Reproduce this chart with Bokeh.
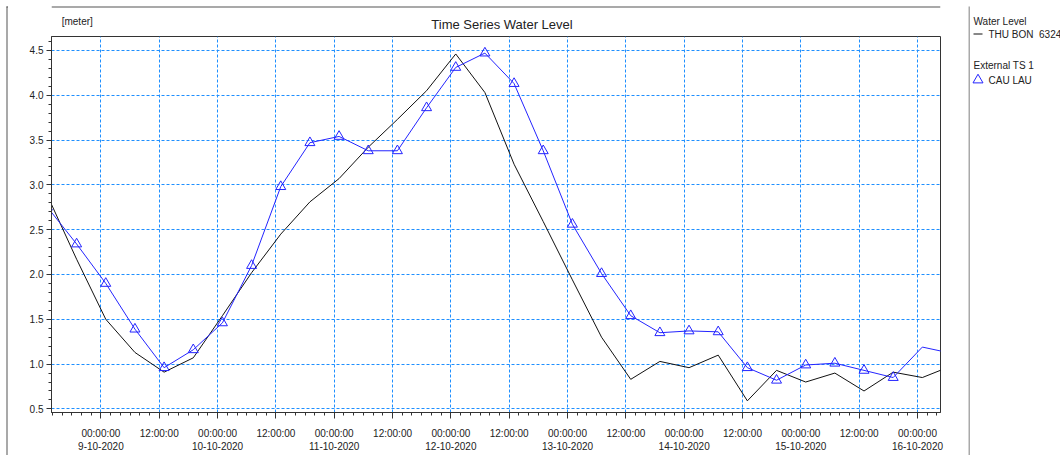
import pandas as pd
from bokeh.plotting import figure
from bokeh.layouts import row, column
from bokeh.models import (ColumnDataSource, Range1d, FixedTicker, SingleIntervalTicker,
                          PrintfTickFormatter, BoxAnnotation)
from bokeh.core.properties import value
from bokeh.embed import file_html
from bokeh.resources import INLINE

# ---------------- data (6-hourly, first value at 2020-10-08 13:00) ----------------
series_start = "2020-10-08 13:00"
step = "6h"
thu_bon = [2.88, 2.17, 1.50, 1.13, 0.91, 1.07, 1.54, 2.02, 2.45, 2.81, 3.07, 3.42,
           3.73, 4.05, 4.46, 4.03, 3.23, 2.59, 1.94, 1.30, 0.83, 1.03, 0.96, 1.10,
           0.59, 0.93, 0.80, 0.90, 0.70, 0.91, 0.85, 0.98]
cau_lau = [2.75, 2.34, 1.90, 1.39, 0.96, 1.16, 1.46, 2.10, 2.98, 3.47, 3.54, 3.38,
           3.38, 3.86, 4.31, 4.47, 4.13, 3.38, 2.56, 2.01, 1.54, 1.35, 1.37, 1.36,
           0.96, 0.82, 0.99, 1.01, 0.93, 0.85, 1.19, 1.12]
marker_until = "2020-10-16 00:00"

title_text = "Time Series Water Level"
unit_text = "[meter]"
legend_group1 = "Water Level"
legend_item1 = "THU BON\u00a0 63248"
legend_group2 = "External TS 1"
legend_item2 = "CAU LAU"

x_start = "2020-10-08 13:50"
x_end = "2020-10-16 04:44"
first_major = "2020-10-09 00:00"
last_major = "2020-10-16 00:00"

FONT = "Liberation Sans"
TXT = "#222222"
GRID = "#1E8FFF"
BORDER = "#555555"
BLUE = "#2424ff"


def blank(width, height, xr, yr):
    f = figure(width=width, height=height, x_range=Range1d(*xr), y_range=Range1d(*yr),
               output_backend="svg", toolbar_location=None,
               x_axis_location=None, y_axis_location=None, min_border=0)
    f.xgrid.visible = False
    f.ygrid.visible = False
    f.outline_line_color = None
    f.background_fill_color = "white"
    f.border_fill_color = "white"
    return f


def rule(f, left, right, top, bottom):
    f.add_layout(BoxAnnotation(left=left, right=right, top=top, bottom=bottom,
                               fill_color=BORDER, fill_alpha=1, line_color=None))


# ---------------- left strip: panel border ----------------
strip = blank(8, 455, (0, 8), (455, 0))
rule(strip, 6, 7, 6, 455)
rule(strip, 6, 8, 6, 7)

# ---------------- top strip: title + unit ----------------
top = blank(960, 35, (8, 968), (35, 0))
rule(top, 8, 968, 6, 7)
top.text(x=[494.5], y=[23.5], text=[title_text], text_font=value(FONT),
         text_font_size="13px", text_color=TXT, text_align="center", text_baseline="middle")
top.text(x=[19], y=[20.5], text=[unit_text], text_font=value(FONT),
         text_font_size="10px", text_color=TXT, text_align="left", text_baseline="middle")

# ---------------- main chart ----------------
times = pd.date_range(series_start, periods=len(thu_bon), freq=step)
src_black = ColumnDataSource(dict(t=times, v=thu_bon))
src_blue = ColumnDataSource(dict(t=times, v=cau_lau))
mk = times < pd.Timestamp(marker_until)
src_mark = ColumnDataSource(dict(t=times[mk], v=[v for v, m in zip(cau_lau, mk) if m]))

p = figure(width=960, height=420, x_axis_type="datetime", output_backend="svg",
           toolbar_location=None,
           x_range=Range1d(pd.Timestamp(x_start), pd.Timestamp(x_end)),
           y_range=Range1d(0.46, 4.655),
           min_border_left=43, min_border_right=28, min_border_top=1, min_border_bottom=41)
p.outline_line_color = "#333333"
p.background_fill_color = "white"
p.border_fill_color = "white"

major = pd.date_range(first_major, last_major, freq="12h")
minor = pd.date_range(pd.Timestamp(x_start).ceil("2h"), x_end, freq="2h")
to_ms = lambda ts: float(ts.value // 10**6)
major_ms = [to_ms(t) for t in major]
minor_ms = [to_ms(t) for t in minor]
labels = {}
for t, ms in zip(major, major_ms):
    if t.hour == 0:
        labels[ms] = "00:00:00\n%d-%d-%d" % (t.day, t.month, t.year)
    else:
        labels[ms] = t.strftime("%H:%M:%S")

xa = p.xaxis[0]
xa.ticker = FixedTicker(ticks=major_ms, minor_ticks=minor_ms)
xa.major_label_overrides = labels
xa.major_tick_in = 0
xa.major_tick_out = 6
xa.minor_tick_in = 0
xa.minor_tick_out = 3
xa.axis_line_color = "#333333"
xa.major_tick_line_color = "#333333"
xa.minor_tick_line_color = "#333333"
xa.major_label_text_font = FONT
xa.major_label_text_font_size = "10px"
xa.major_label_text_color = TXT
xa.major_label_text_line_height = 1.25
xa.major_label_standoff = 9

ya = p.yaxis[0]
ya.ticker = SingleIntervalTicker(interval=0.5, num_minor_ticks=5)
ya.formatter = PrintfTickFormatter(format="%.1f")
ya.major_tick_in = 0
ya.major_tick_out = 5
ya.minor_tick_in = 0
ya.minor_tick_out = 3
ya.axis_line_color = "#333333"
ya.major_tick_line_color = "#333333"
ya.minor_tick_line_color = "#333333"
ya.major_label_text_font = FONT
ya.major_label_text_font_size = "10px"
ya.major_label_text_color = TXT
ya.major_label_standoff = 3

for g in (p.xgrid[0], p.ygrid[0]):
    g.grid_line_color = GRID
    g.grid_line_dash = "3 2"
    g.grid_line_width = 1
p.xgrid[0].ticker = xa.ticker

p.line("t", "v", source=src_black, line_color="#111111", line_width=1)
p.line("t", "v", source=src_blue, line_color=BLUE, line_width=1)
p.scatter("t", "v", source=src_mark, marker="triangle", size=10,
          fill_color=None, line_color=BLUE, line_width=1)

# ---------------- legend panel ----------------
leg = blank(92, 455, (968, 1060), (455, 0))
rule(leg, 968, 969, 6, 455)
leg.text(x=[973, 988, 973, 988], y=[20.5, 33.5, 65, 79.5],
         text=[legend_group1, legend_item1, legend_group2, legend_item2],
         text_font=value(FONT), text_font_size="10px", text_color=TXT,
         text_align="left", text_baseline="middle")
leg.line(x=[973, 982], y=[33.5, 33.5], line_color="#111111", line_width=1)
leg.scatter(x=[977.5], y=[79.5], marker="triangle", size=10,
            fill_color=None, line_color=BLUE, line_width=1)

layout = row(strip, column(top, p), leg)
open("out.html", "w").write(file_html(layout, INLINE))
